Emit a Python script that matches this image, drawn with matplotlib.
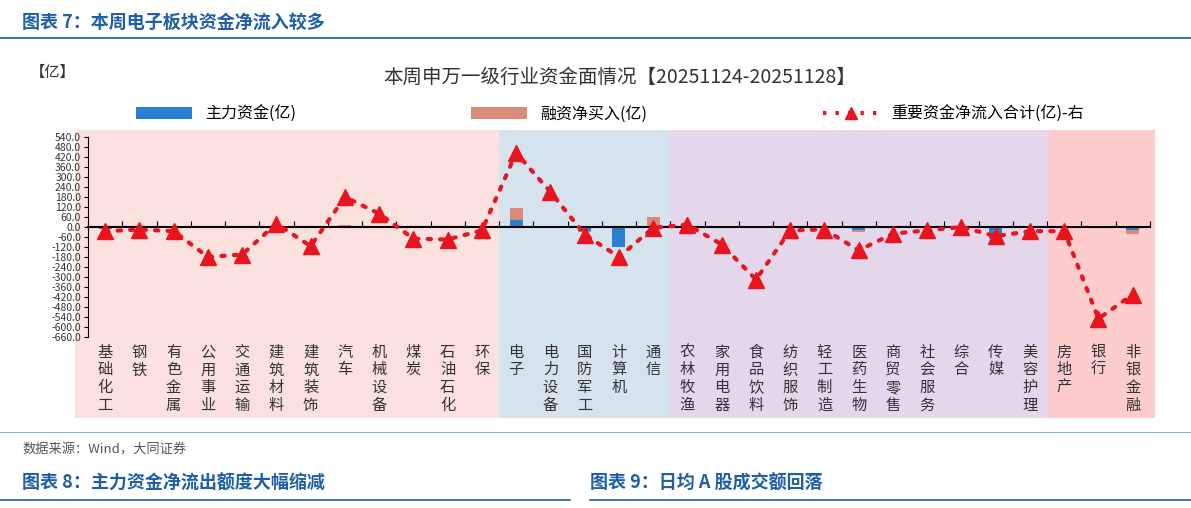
import matplotlib
matplotlib.use("Agg")
import matplotlib.pyplot as plt
from matplotlib.patches import Patch
from matplotlib.lines import Line2D
import numpy as np

plt.rcParams['font.family'] = ['Noto Sans CJK SC', 'DejaVu Sans']
plt.rcParams['hatch.color'] = 'white'
plt.rcParams['hatch.linewidth'] = 0.8

categories = ["基础化工","钢铁","有色金属","公用事业","交通运输","建筑材料","建筑装饰","汽车","机械设备","煤炭","石油石化","环保",
              "电子","电力设备","国防军工","计算机","通信",
              "农林牧渔","家用电器","食品饮料","纺织服饰","轻工制造","医药生物","商贸零售","社会服务","综合","传媒","美容护理",
              "房地产","银行","非银金融"]
main_funds = [-10,0,-5,0,0,0,0,0,0,0,0,-5,
              40,0,-25,-120,0,
              0,0,0,0,0,-20,0,0,0,-70,0,
              0,0,-20]
financing = [0,0,0,0,5,0,5,10,0,0,0,0,
             75,5,-5,0,60,
             0,0,0,0,0,-10,5,0,0,0,0,
             0,5,-20]
total_flow = [-25,-15,-25,-180,-165,20,-115,180,80,-70,-75,-20,
              445,210,-45,-180,-5,
              15,-105,-315,-20,-15,-140,-40,-20,0,-55,-25,
              -25,-550,-405]
groups = [(0,11,'#fbe1dd'),(12,16,'#d5e3ef'),(17,27,'#e4d6eb'),(28,30,'#fdcdcd')]

fig = plt.figure(figsize=(11.91,5.08), dpi=100)
W,H = 1191,508
blue = '#1f5fa8'

fig.text(22/W, 1-22/H, "图表 7：本周电子板块资金净流入较多", color=blue, fontsize=13, fontweight='bold', va='center')
fig.add_artist(Line2D([0,1],[1-38/H]*2, color=blue, lw=1.2))
fig.add_artist(Line2D([0,1],[1-432/H]*2, color='#8fb3dc', lw=0.8))
fig.text(22/W, 1-450/H, "数据来源：Wind，大同证券", color='#555555', fontsize=9.5, style='italic', va='center')
fig.text(22/W, 1-483/H, "图表 8：主力资金净流出额度大幅缩减", color=blue, fontsize=13, fontweight='bold', va='center')
fig.text(590/W, 1-483/H, "图表 9：日均 A 股成交额回落", color=blue, fontsize=13, fontweight='bold', va='center')
fig.add_artist(Line2D([0,570/W],[1-500/H]*2, color=blue, lw=1.2))
fig.add_artist(Line2D([590/W,1],[1-500/H]*2, color=blue, lw=1.2))

fig.text(620/W, 1-77/H, "本周申万一级行业资金面情况【20251124-20251128】", fontsize=14, ha='center', va='center', color='#333333')
fig.text(30/W, 1-72/H, "【亿】", fontsize=11, va='center', color='#333333')

ax = fig.add_axes([75/W, 1-418/H, 1080/W, 288/H])
x = np.arange(len(categories))
ax.set_xlim(-0.88, 30.65)
ax.set_ylim(-1146, 582)
for s,e,c in groups:
    ax.axvspan(s-0.5 if s>0 else -0.88, e+0.5 if e<30 else 30.65, color=c, zorder=0, lw=0)

main = np.array(main_funds, float); fin = np.array(financing, float)
bottom = np.where(np.sign(fin)==np.sign(main), main, 0)
ax.bar(x, main, width=0.38, color='#2a7fd0', hatch='oo', edgecolor='#2a7fd0', lw=0, zorder=2)
ax.bar(x, fin, bottom=bottom, width=0.38, color='#d98a78', hatch='...', edgecolor='#d98a78', lw=0, zorder=2)
ax.plot(x, total_flow, color='#e8141e', ls=(0,(0.8,2.2)), lw=3, dash_capstyle='round', marker='^', ms=11, zorder=3)

for s in ['top','right']:
    ax.spines[s].set_visible(False)
ax.spines['bottom'].set_position(('data',0))
ax.spines['bottom'].set_bounds(-0.5, 30.5)
ax.spines['bottom'].set_linewidth(1.5)
ax.spines['left'].set_position(('data',-0.5))
ax.spines['left'].set_bounds(-660, 540)
ax.set_yticks(np.arange(-660, 541, 60))
ax.set_yticklabels([f"{v:.1f}" for v in np.arange(-660, 541, 60)], fontsize=7.5, color='#333333')
ax.tick_params(axis='y', length=3, pad=2)
ax.set_xticks(np.arange(-0.5, 31, 1))
ax.set_xticklabels([])
ax.tick_params(axis='x', direction='in', length=4)
for i,c in enumerate(categories):
    ax.text(i, -700, "\n".join(c), ha='center', va='top', fontsize=11, linespacing=1.05, color='#333333')

handles = [Patch(facecolor='#2a7fd0', hatch='oo', edgecolor='#2a7fd0', lw=0),
           Patch(facecolor='#d98a78', hatch='...', edgecolor='#d98a78', lw=0),
           Line2D([],[],color='#e8141e', ls=(0,(0.8,2.2)), lw=3, marker='^', ms=9)]
fig.legend(handles, ["主力资金(亿)","融资净买入(亿)","重要资金净流入合计(亿)-右"], loc='center',
           bbox_to_anchor=(610/W, 1-114/H), ncol=3, frameon=False, fontsize=11.5, columnspacing=11, handlelength=3.5)

fig.savefig("out.png", dpi=100)
